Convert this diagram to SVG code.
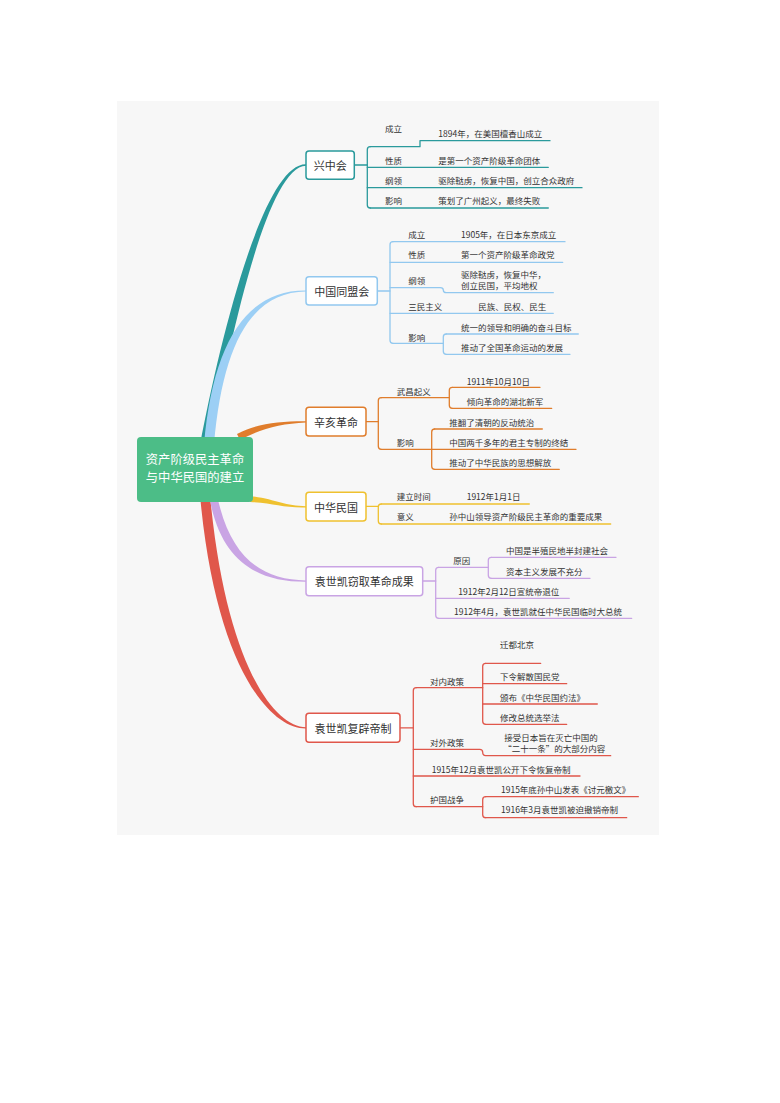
<svg xmlns="http://www.w3.org/2000/svg" width="780" height="1103" viewBox="0 0 780 1103">
<style>
.t{font-family:"Noto Sans CJK SC","Liberation Sans",sans-serif;font-size:8.5px;fill:#333;dominant-baseline:central}
.n{font-family:"Noto Sans CJK SC","Liberation Sans",sans-serif;font-size:11px;fill:#333;text-anchor:middle;dominant-baseline:central}
.c{font-family:"Noto Sans CJK SC","Liberation Sans",sans-serif;font-size:12.3px;fill:#fff;text-anchor:middle}
.box{fill:#fff;stroke-width:1.5}
.ln{fill:none;stroke-width:1.3;stroke-linecap:round;stroke-linejoin:round}
.teal{stroke:#2a9a9c}.blue{stroke:#92c8ef}.orange{stroke:#e07d2c}.yellow{stroke:#efc12f}.purple{stroke:#c9a4e4}.red{stroke:#e0574b}
</style>
<rect x="117" y="101" width="542" height="734" fill="#f7f7f7"/>

<g id="branches">
<path d="M200,445 C220,340 263,163.5 306,164.3 L306,165.7 C267,166.5 230,340 210,445 Z" fill="#2a9a9c"/>
<path d="M204,445 C213,340 248,289.8 306,290.4 L306,291.6 C252,292.2 223,342 214,445 Z" fill="#9ccff5"/>
<path d="M237,434 C257,423.5 280,421 306,421.2 L306,422.4 C280,423.5 260,429 240,440 Z" fill="#e07d2c"/>
<path d="M250,496 C275,499 285,506 306,506.2 L306,507.4 C283,508 273,503 250,502 Z" fill="#efc12f"/>
<path d="M200,495 C215,662 268,729 306,728.6 L306,727.2 C272,727 225,658 210,495 Z" fill="#e0574b"/>
<path d="M209,495 C220,562 258,582 306,581.7 L306,580.4 C262,580 230,558 217,495 Z" fill="#c9a4e4"/>
</g>

<g id="center">
<rect x="137" y="437" width="116" height="65" rx="4" fill="#4cbd87"/>
<text class="c" x="195" y="464"><tspan x="195" y="464">资产阶级民主革命</tspan><tspan x="195" y="482.2">与中华民国的建立</tspan></text>
</g>

<g id="connectors">
<g class="teal">
<path class="ln" d="M354,165 H367.3"/>
<path class="ln" d="M370.3,146.7 Q367.3,146.7 367.3,149.7 V205 Q367.3,208 370.3,208"/>
<path class="ln" d="M370.3,146.7 H420 V140.7 H550"/>
<path class="ln" d="M367.3,167.3 H548.3"/>
<path class="ln" d="M367.3,187.7 H582"/>
<path class="ln" d="M370.3,208 H548.3"/>
</g>
<g class="blue">
<path class="ln" d="M377.3,291 H390"/>
<path class="ln" d="M393,241.7 Q390,241.7 390,244.7 V340.3 Q390,343.3 393,343.3"/>
<path class="ln" d="M393,241.7 H565"/>
<path class="ln" d="M390,262.3 H562.7"/>
<path class="ln" d="M390,287.7 H440.3 Q443.3,287.7 443.3,290 Q443.3,292.7 446.3,292.7 H553.3"/>
<path class="ln" d="M390,313.3 H553.3"/>
<path class="ln" d="M393,343.3 H443.3"/>
<path class="ln" d="M446.3,334 Q443.3,334 443.3,337 V351.3 Q443.3,354.3 446.3,354.3"/>
<path class="ln" d="M446.3,334 H578.3"/>
<path class="ln" d="M446.3,354.3 H570"/>
</g>
<g class="orange">
<path class="ln" d="M366,421.7 H378.3"/>
<path class="ln" d="M381.3,397.7 Q378.3,397.7 378.3,400.7 V446.3 Q378.3,449.3 381.3,449.3"/>
<path class="ln" d="M381.3,397.7 H449.3"/>
<path class="ln" d="M452.3,387.3 Q449.3,387.3 449.3,390.3 V405.3 Q449.3,408.3 452.3,408.3"/>
<path class="ln" d="M452.3,387.3 H540"/>
<path class="ln" d="M452.3,408.3 H551.7"/>
<path class="ln" d="M381.3,449.3 H576"/>
<path class="ln" d="M434.7,429 Q431.7,429 431.7,432 V466.3 Q431.7,469.3 434.7,469.3"/>
<path class="ln" d="M434.7,429 H542.3"/>
<path class="ln" d="M434.7,469.3 H559.3"/>
</g>
<g class="yellow">
<path class="ln" d="M366,506.3 H378.3"/>
<path class="ln" d="M381.3,504 Q378.3,504 378.3,507 V521 Q378.3,524 381.3,524"/>
<path class="ln" d="M381.3,504 H529.3"/>
<path class="ln" d="M381.3,524 H610.7"/>
</g>
<g class="purple">
<path class="ln" d="M422.7,581 H435.7"/>
<path class="ln" d="M438.7,567.3 Q435.7,567.3 435.7,570.3 V615.3 Q435.7,618.3 438.7,618.3"/>
<path class="ln" d="M438.7,567.3 H488.3"/>
<path class="ln" d="M491.3,557.3 Q488.3,557.3 488.3,560.3 V575.3 Q488.3,578.3 491.3,578.3"/>
<path class="ln" d="M491.3,557.3 H616"/>
<path class="ln" d="M491.3,578.3 H590"/>
<path class="ln" d="M435.7,598.3 H569.3"/>
<path class="ln" d="M438.7,618.3 H631.7"/>
</g>
<g class="red">
<path class="ln" d="M400,727.8 H413.3"/>
<path class="ln" d="M416.3,687.7 Q413.3,687.7 413.3,690.7 V803.7 Q413.3,806.7 416.3,806.7"/>
<path class="ln" d="M416.3,687.7 H482.7"/>
<path class="ln" d="M485.7,663.3 Q482.7,663.3 482.7,666.3 V721.3 Q482.7,724.3 485.7,724.3"/>
<path class="ln" d="M485.7,663.3 H540.7"/>
<path class="ln" d="M482.7,683.7 H566.7"/>
<path class="ln" d="M482.7,704 H597.3"/>
<path class="ln" d="M485.7,724.3 H566.7"/>
<path class="ln" d="M413.3,749.3 H479.7 Q482.7,749.3 482.7,752.3 Q482.7,755.7 485.7,755.7 H610.7"/>
<path class="ln" d="M413.3,776 H580"/>
<path class="ln" d="M416.3,806.7 H482.7"/>
<path class="ln" d="M485.7,796.7 Q482.7,796.7 482.7,799.7 V814.7 Q482.7,817.7 485.7,817.7"/>
<path class="ln" d="M485.7,796.7 H638.3"/>
<path class="ln" d="M485.7,817.7 H626.7"/>
</g>
</g>

<g id="node-xingzhonghui">
<rect class="box teal" x="306" y="151" width="48.3" height="28.3" rx="3"/>
<text class="n" x="330.2" y="165">兴中会</text>
<text class="t" x="385" y="128">成立</text>
<text class="t" x="438.3" y="133.3">1894年，在美国檀香山成立</text>
<text class="t" x="385" y="160">性质</text>
<text class="t" x="438.3" y="160">是第一个资产阶级革命团体</text>
<text class="t" x="385" y="180.3">纲领</text>
<text class="t" x="438.3" y="180.3">驱除鞑虏，恢复中国，创立合众政府</text>
<text class="t" x="385" y="200.3">影响</text>
<text class="t" x="438.3" y="200.3">策划了广州起义，最终失败</text>
</g>

<g id="node-tongmenghui">
<rect class="box blue" x="306" y="276.7" width="71.3" height="28.3" rx="3"/>
<text class="n" x="341.7" y="291">中国同盟会</text>
<text class="t" x="408.3" y="234">成立</text>
<text class="t" x="461" y="234">1905年，在日本东京成立</text>
<text class="t" x="408.3" y="254.3">性质</text>
<text class="t" x="461" y="254.3">第一个资产阶级革命政党</text>
<text class="t" x="408.3" y="280.3">纲领</text>
<text class="t" x="461" y="274.3">驱除鞑虏，恢复中华，</text>
<text class="t" x="461" y="285.3">创立民国，平均地权</text>
<text class="t" x="408.3" y="306">三民主义</text>
<text class="t" x="478.3" y="306">民族、民权、民生</text>
<text class="t" x="408.3" y="336.7">影响</text>
<text class="t" x="461" y="326.7">统一的领导和明确的奋斗目标</text>
<text class="t" x="461" y="347.3">推动了全国革命运动的发展</text>
</g>

<g id="node-xinhai">
<rect class="box orange" x="306" y="407.3" width="60" height="28.7" rx="3"/>
<text class="n" x="336" y="421.7">辛亥革命</text>
<text class="t" x="396.7" y="390.7">武昌起义</text>
<text class="t" x="466.7" y="380.7">1911年10月10日</text>
<text class="t" x="466.7" y="400.7">倾向革命的湖北新军</text>
<text class="t" x="396.7" y="441.7">影响</text>
<text class="t" x="449.3" y="421.7">推翻了清朝的反动统治</text>
<text class="t" x="449.3" y="441.7">中国两千多年的君主专制的终结</text>
<text class="t" x="449.3" y="461.7">推动了中华民族的思想解放</text>
</g>

<g id="node-minguo">
<rect class="box yellow" x="306" y="492.3" width="60" height="28.7" rx="3"/>
<text class="n" x="336" y="506.7">中华民国</text>
<text class="t" x="396.7" y="496">建立时间</text>
<text class="t" x="466.7" y="496">1912年1月1日</text>
<text class="t" x="396.7" y="516">意义</text>
<text class="t" x="449.3" y="516">孙中山领导资产阶级民主革命的重要成果</text>
</g>

<g id="node-qiequ">
<rect class="box purple" x="306" y="566.7" width="116.7" height="29" rx="3"/>
<text class="n" x="364.3" y="581">袁世凯窃取革命成果</text>
<text class="t" x="453.3" y="560">原因</text>
<text class="t" x="506" y="550">中国是半殖民地半封建社会</text>
<text class="t" x="506" y="570.7">资本主义发展不充分</text>
<text class="t" x="458.3" y="590.7">1912年2月12日宣统帝退位</text>
<text class="t" x="454" y="611">1912年4月，袁世凯就任中华民国临时大总统</text>
</g>

<g id="node-fubi">
<rect class="box red" x="306" y="713.3" width="94" height="29" rx="3"/>
<text class="n" x="353" y="727.8">袁世凯复辟帝制</text>
<text class="t" x="430" y="681">对内政策</text>
<text class="t" x="500" y="644.3">迁都北京</text>
<text class="t" x="500" y="676.3">下令解散国民党</text>
<text class="t" x="500" y="696.7">颁布《中华民国约法》</text>
<text class="t" x="500" y="716.7">修改总统选举法</text>
<text class="t" x="430" y="742.3">对外政策</text>
<text class="t" x="504.3" y="736.7">接受日本旨在灭亡中国的</text>
<text class="t" x="503.3" y="747.7">“二十一条”的大部分内容</text>
<text class="t" x="431.7" y="769">1915年12月袁世凯公开下令恢复帝制</text>
<text class="t" x="430" y="799">护国战争</text>
<text class="t" x="501" y="789">1915年底孙中山发表《讨元檄文》</text>
<text class="t" x="501" y="809.3">1916年3月袁世凯被迫撤销帝制</text>
</g>
</svg>
